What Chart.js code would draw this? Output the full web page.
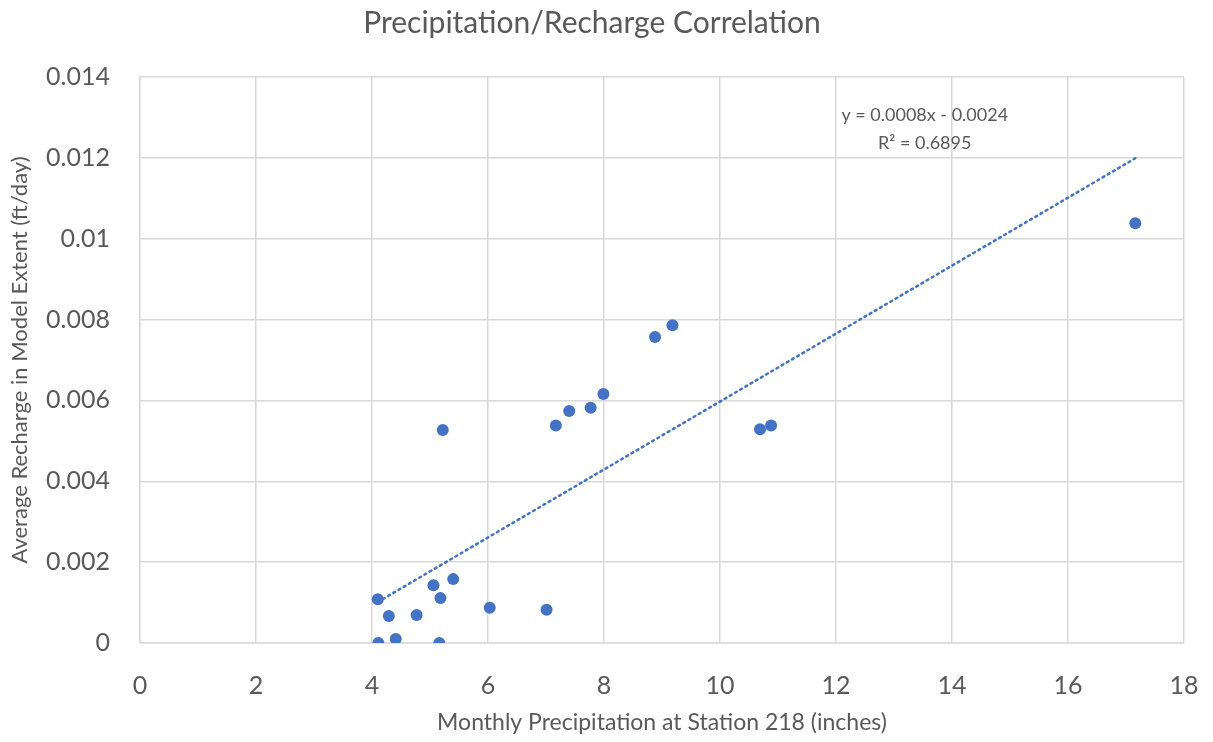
<!DOCTYPE html>
<html>
<head>
<meta charset="utf-8">
<script src="https://cdn.jsdelivr.net/npm/chart.js@4.4.1/dist/chart.umd.min.js"></script>
<style>
  html, body { margin: 0; padding: 0; background: #fff; }
  #wrap { width: 1213px; height: 742px; }
</style>
</head>
<body>
<div id="wrap"><canvas id="chart" width="1213" height="742"></canvas></div>
<script>
// monthly precipitation (inches) vs average recharge (ft/day)
const precip = [4.10, 4.29, 4.77, 5.06, 5.40, 5.18, 6.03, 7.01, 4.11, 4.41, 5.16,
                7.17, 7.40, 7.77, 7.99, 8.88, 9.18, 5.22, 10.69, 10.88, 17.16];
const recharge = [0.00108, 0.00067, 0.00069, 0.00143, 0.00158, 0.00111, 0.00087, 0.00082, 0.0000, 0.0001, 0.0000,
                  0.00538, 0.00574, 0.00582, 0.00616, 0.00757, 0.00786, 0.00527, 0.00529, 0.00538, 0.01038];
const trendText = ["y = 0.0008x - 0.0024", "R\u00b2 = 0.6895"];

const grey = "#595959";
const blue = "#4472C4";
const font = "Lato, 'Open Sans', sans-serif";

// least squares fit for the trend line
const n = precip.length;
const mx = precip.reduce((a, b) => a + b, 0) / n;
const my = recharge.reduce((a, b) => a + b, 0) / n;
let sxy = 0, sxx = 0;
for (let i = 0; i < n; i++) {
  sxy += (precip[i] - mx) * (recharge[i] - my);
  sxx += (precip[i] - mx) ** 2;
}
const slope = sxy / sxx;
const icpt = my - slope * mx;
const xMin = Math.min(...precip), xMax = Math.max(...precip);

const points = precip.map((x, i) => ({ x: x, y: recharge[i] }));
const trend = [{ x: xMin, y: slope * xMin + icpt }, { x: xMax, y: slope * xMax + icpt }];

const trendLabel = {
  id: "trendLabel",
  afterDraw(chart) {
    const ctx = chart.ctx;
    const xs = chart.scales.x, ys = chart.scales.y;
    ctx.save();
    ctx.fillStyle = grey;
    ctx.font = "18px " + font;
    ctx.textAlign = "center";
    ctx.textBaseline = "middle";
    ctx.fillText(trendText[0], xs.getPixelForValue(13.53), ys.getPixelForValue(0.01306));
    ctx.fillText(trendText[1], xs.getPixelForValue(13.53), ys.getPixelForValue(0.01237));
    ctx.restore();
  }
};

new Chart(document.getElementById("chart"), {
  type: "scatter",
  data: {
    datasets: [
      {
        label: "Recharge",
        data: points,
        backgroundColor: blue,
        borderWidth: 0,
        pointRadius: 6,
        pointHoverRadius: 6
      },
      {
        label: "Trend",
        data: trend,
        showLine: true,
        borderColor: blue,
        borderWidth: 2.5,
        borderDash: [2, 4],
        borderCapStyle: "round",
        pointRadius: 0
      }
    ]
  },
  options: {
    responsive: false,
    animation: false,
    layout: { padding: { top: 0, right: 29, bottom: 0, left: 0 } },
    plugins: {
      legend: { display: false },
      tooltip: { enabled: false },
      title: {
        display: true,
        text: "Precipitation/Recharge Correlation",
        color: grey,
        font: { family: font, size: 30, weight: "normal", lineHeight: 1.2 },
        padding: { top: 5, bottom: 36 }
      }
    },
    scales: {
      x: {
        type: "linear",
        min: 0, max: 18,
        ticks: { stepSize: 2, color: grey, padding: 28, font: { family: font, size: 25 } },
        grid: { color: "#d9d9d9", lineWidth: 1.5, drawTicks: false },
        border: { color: "#d9d9d9", width: 1.5 },
        title: {
          display: true,
          text: "Monthly Precipitation at Station 218 (inches)",
          color: grey,
          font: { family: font, size: 23 },
          padding: { top: 0, bottom: 6 }
        },
        afterFit(s) {
          s.height = 99;
          // tick padding also widens the side padding; keep only the label overhang
          s.paddingLeft = 0;
          s.paddingRight = 15;
        }
      },
      y: {
        type: "linear",
        min: 0, max: 0.014,
        ticks: {
          stepSize: 0.002, color: grey, padding: 30, font: { family: font, size: 25 },
          callback: v => String(+v.toFixed(3))
        },
        grid: { color: "#d9d9d9", lineWidth: 1.5, drawTicks: false },
        border: { color: "#d9d9d9", width: 1.5 },
        title: {
          display: true,
          text: "Average Recharge in Model Extent (ft/day)",
          color: grey,
          font: { family: font, size: 22 },
          padding: { top: 7, bottom: 0 }
        },
        afterFit(s) { s.width = 140; }
      }
    }
  },
  plugins: [trendLabel]
});
</script>
</body>
</html>
